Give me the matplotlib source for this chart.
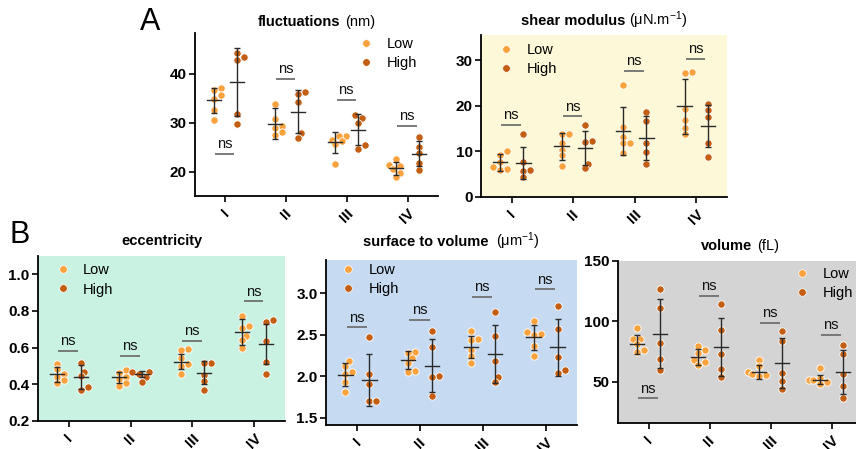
import numpy as np
import matplotlib
matplotlib.use("Agg")
import matplotlib.pyplot as plt
from matplotlib.lines import Line2D
from matplotlib.offsetbox import TextArea, HPacker, AnchoredOffsetbox

plt.rcParams['font.family'] = ['Liberation Sans', 'DejaVu Sans']
plt.rcParams['mathtext.fontset'] = 'custom'
plt.rcParams['mathtext.rm'] = 'Liberation Sans'
plt.rcParams['mathtext.it'] = 'Liberation Sans:italic'
plt.rcParams['mathtext.bf'] = 'Liberation Sans:bold'

# ---------------- data ----------------
categories = ['I', 'II', 'III', 'IV']
group_labels = ['Low', 'High']

# fluctuations (nm)
fluct_low = [[37.2, 36.7, 35.6, 34.8, 32.6, 30.6],
             [33.9, 30.8, 29.3, 28.9, 28.2, 27.6],
             [27.3, 27.2, 26.5, 26.2, 25.6, 21.6],
             [22.6, 21.4, 21.1, 20.5, 19.7, 18.8]]
fluct_high = [[44.2, 43.4, 42.9, 31.8, 29.7],
              [36.4, 35.9, 34.2, 27.9, 26.9],
              [31.6, 30.9, 29.9, 25.4, 24.6],
              [27.1, 25.0, 23.9, 21.8, 20.4]]
fluct_low_mean = [34.6, 29.8, 26.0, 20.7]
fluct_low_sd = [2.6, 3.2, 2.2, 1.35]
fluct_high_mean = [38.4, 32.3, 28.6, 23.7]
fluct_high_sd = [7.0, 4.4, 3.2, 2.55]
fluct_ns = [23.6, 39.0, 34.7, 29.4]

# shear modulus (uN/m)
shear_low = [[10.1, 9.3, 7.6, 6.6, 6.1, 6.0],
             [13.8, 13.8, 11.8, 10.4, 9.1, 6.9],
             [24.5, 15.4, 13.2, 11.8, 11.8, 9.7],
             [27.4, 27.2, 19.2, 16.9, 15.2, 13.7]]
shear_high = [[13.8, 7.7, 6.0, 5.6, 4.4],
              [15.8, 12.3, 12.0, 7.3, 6.4],
              [18.6, 16.6, 11.8, 9.9, 7.3],
              [20.4, 19.0, 17.6, 11.8, 8.8]]
shear_low_mean = [7.6, 11.1, 14.5, 19.9]
shear_low_sd = [1.8, 3.0, 5.3, 6.0]
shear_high_mean = [7.5, 10.7, 12.9, 15.5]
shear_high_sd = [3.5, 3.75, 4.75, 4.6]
shear_ns = [15.8, 17.7, 27.6, 30.3]

# eccentricity
ecc_low = [[0.511, 0.482, 0.456, 0.442, 0.424, 0.409],
           [0.478, 0.460, 0.442, 0.429, 0.409, 0.391],
           [0.595, 0.585, 0.545, 0.510, 0.500, 0.456],
           [0.773, 0.720, 0.705, 0.664, 0.640, 0.600]]
ecc_high = [[0.518, 0.469, 0.445, 0.387, 0.369],
            [0.469, 0.468, 0.456, 0.442, 0.415],
            [0.518, 0.517, 0.451, 0.418, 0.369],
            [0.751, 0.742, 0.638, 0.524, 0.455]]
ecc_low_mean = [0.455, 0.438, 0.524, 0.684]
ecc_low_sd = [0.041, 0.032, 0.039, 0.070]
ecc_high_mean = [0.440, 0.455, 0.464, 0.620]
ecc_high_sd = [0.066, 0.017, 0.064, 0.110]
ecc_ns = [0.584, 0.555, 0.638, 0.853]

# surface to volume (um^-1)
sv_low = [[2.18, 2.13, 2.05, 2.03, 1.93, 1.81],
          [2.29, 2.28, 2.22, 2.16, 2.06, 2.05],
          [2.54, 2.45, 2.44, 2.32, 2.24, 2.16],
          [2.67, 2.53, 2.51, 2.50, 2.37, 2.24]]
sv_high = [[2.47, 2.03, 1.91, 1.70, 1.70],
           [2.55, 2.35, 2.00, 1.99, 1.76],
           [2.77, 2.49, 2.19, 1.99, 1.93],
           [2.85, 2.57, 2.23, 2.08, 2.04]]
sv_low_mean = [2.02, 2.20, 2.35, 2.47]
sv_low_sd = [0.135, 0.11, 0.13, 0.15]
sv_high_mean = [1.96, 2.13, 2.27, 2.35]
sv_high_sd = [0.315, 0.315, 0.35, 0.345]
sv_ns = [2.59, 2.68, 2.96, 3.05]

# volume (fL)
vol_low = [[94.8, 85.7, 85.2, 81.0, 76.0, 74.7],
           [79.4, 76.6, 73.9, 68.4, 66.5, 64.3],
           [67.8, 63.2, 58.2, 56.3, 55.5, 54.7],
           [61.5, 53.0, 51.9, 51.5, 50.0, 48.6]]
vol_high = [[127.0, 111.3, 82.4, 69.2, 59.6],
            [114.6, 92.6, 73.4, 60.4, 54.1],
            [92.0, 83.8, 57.7, 50.5, 44.5],
            [80.2, 72.8, 56.9, 46.7, 36.8]]
vol_low_mean = [81.0, 70.6, 58.2, 51.9]
vol_low_sd = [7.6, 6.45, 5.9, 3.85]
vol_high_mean = [89.8, 78.8, 65.7, 58.2]
vol_high_sd = [28.5, 24.2, 20.6, 18.25]
vol_ns = [36.3, 121.4, 98.9, 89.0]

# ---------------- style ----------------
W, H = 856, 449
low_color = '#F9A23E'
high_color = '#C35E12'
bar_color = '#2a2a2a'
ns_color = '#707070'
marker_px = 7.0

def rect(l, r, t, b):
    return [l / W, (H - b) / H, (r - l) / W, (b - t) / H]

panels = [
    dict(bold='fluctuations', unit='(nm)', low=fluct_low, high=fluct_high,
         lm=fluct_low_mean, ls=fluct_low_sd, hm=fluct_high_mean, hs=fluct_high_sd,
         ns=fluct_ns, ylim=(15, 48.4), yticks=[20, 30, 40], fmt='{:.0f}',
         fc='white', rect=rect(195, 438, 33, 196), leg=(0.675, 0.975), gap=4),
    dict(bold='shear modulus', unit=r'($\mathrm{\mu}$N.m$^{-1}$)', low=shear_low, high=shear_high,
         lm=shear_low_mean, ls=shear_low_sd, hm=shear_high_mean, hs=shear_high_sd,
         ns=shear_ns, ylim=(0, 35.5), yticks=[0, 10, 20, 30], fmt='{:.0f}',
         fc='#FCF8D8', rect=rect(481, 727, 35, 197), leg=(0.072, 0.95), gap=4),
    dict(bold='eccentricity', unit='', low=ecc_low, high=ecc_high,
         lm=ecc_low_mean, ls=ecc_low_sd, hm=ecc_high_mean, hs=ecc_high_sd,
         ns=ecc_ns, ylim=(0.2, 1.1), yticks=[0.2, 0.4, 0.6, 0.8, 1.0], fmt='{:.1f}',
         fc='#C9F2E3', rect=rect(38, 285, 256, 421), leg=(0.07, 0.955), gap=8),
    dict(bold='surface to volume', unit=r' ($\mathrm{\mu}$m$^{-1}$)', low=sv_low, high=sv_high,
         lm=sv_low_mean, ls=sv_low_sd, hm=sv_high_mean, hs=sv_high_sd,
         ns=sv_ns, ylim=(1.415, 3.40), yticks=[1.5, 2.0, 2.5, 3.0], fmt='{:.1f}',
         fc='#C6DAF2', rect=rect(326, 577, 260, 425), leg=(0.058, 0.98), gap=8),
    dict(bold='volume', unit='(fL)', low=vol_low, high=vol_high,
         lm=vol_low_mean, ls=vol_low_sd, hm=vol_high_mean, hs=vol_high_sd,
         ns=vol_ns, ylim=(16, 150), yticks=[50, 100, 150], fmt='{:.0f}',
         fc='#D4D4D4', rect=rect(618, 862, 261, 423), leg=(0.725, 0.965), gap=8),
]

fig = plt.figure(figsize=(W / 100, H / 100), dpi=100)

def swarm_x(ax, xc, ys, diam):
    ys = np.asarray(ys, float)
    pts = ax.transData.transform(np.column_stack([np.full(len(ys), xc), ys]))
    x0 = pts[0, 0]
    order = np.argsort(ys)
    placed = []
    out = np.zeros(len(ys))
    for i in order:
        yp = pts[i, 1]
        for k in [0, 1, -1, 2, -2, 3, -3]:
            xp = x0 + k * diam * 0.5
            if all((xp - a) ** 2 + (yp - b) ** 2 >= (diam * 0.75) ** 2 for a, b in placed):
                break
        placed.append((xp, yp))
        out[i] = xp
    back = ax.transData.inverted().transform(np.column_stack([out, pts[:, 1]]))
    return back[:, 0]

xpos = np.arange(len(categories))
off = 0.19
half_mean = 0.115

for p in panels:
    ax = fig.add_axes(p['rect'])
    ax.set_facecolor(p['fc'])
    ax.set_xlim(-0.5, 3.5)
    ax.set_ylim(*p['ylim'])
    for s in ['top', 'right']:
        ax.spines[s].set_visible(False)
    for s in ['left', 'bottom']:
        ax.spines[s].set_linewidth(1.3)
        ax.spines[s].set_color('black')

    for gi, (pts_all, means, sds, col, dx) in enumerate([
            (p['low'], p['lm'], p['ls'], low_color, -off),
            (p['high'], p['hm'], p['hs'], high_color, off)]):
        for ci in range(len(categories)):
            xc = xpos[ci] + dx
            ys = pts_all[ci]
            xs = swarm_x(ax, xc, ys, marker_px)
            ax.scatter(xs, ys, s=28, color=col, edgecolors='white', linewidths=0.6, zorder=3)
            ax.errorbar([xc], [means[ci]], yerr=[sds[ci]], fmt='none', ecolor=bar_color,
                        elinewidth=1.0, capsize=2.5, capthick=1.0, zorder=4)
            ax.plot([xc - half_mean, xc + half_mean], [means[ci], means[ci]],
                    color=bar_color, lw=1.0, zorder=4)

    for ci in range(len(categories)):
        x0 = xpos[ci] - 0.01
        ax.plot([x0 - 0.16, x0 + 0.16], [p['ns'][ci], p['ns'][ci]], color=ns_color,
                lw=1.3, zorder=2, solid_capstyle='butt')
        ax.annotate('ns', (x0, p['ns'][ci]), xytext=(0, 4), textcoords='offset points',
                    ha='center', va='baseline', fontsize=10.5, color='#111111')

    ax.set_xticks(xpos)
    ax.set_xticklabels(categories, rotation=45, ha='center', fontweight='bold', fontsize=11)
    ax.set_yticks(p['yticks'])
    ax.set_yticklabels([p['fmt'].format(v) for v in p['yticks']], fontweight='bold', fontsize=11)
    ax.tick_params(axis='both', direction='out', length=4, width=1.2, colors='black', pad=2)
    ax.tick_params(axis='x', pad=3)

    handles = [Line2D([], [], marker='o', ls='', markersize=5.5, markerfacecolor=low_color,
                      markeredgecolor='white', markeredgewidth=0.5, label=group_labels[0]),
               Line2D([], [], marker='o', ls='', markersize=5.5, markerfacecolor=high_color,
                      markeredgecolor='white', markeredgewidth=0.5, label=group_labels[1])]
    ax.legend(handles=handles, loc='upper left', bbox_to_anchor=p['leg'], frameon=False,
              fontsize=10.5, handlelength=1.0, handletextpad=0.9, labelspacing=0.35,
              borderpad=0, borderaxespad=0)

    parts = [TextArea(p['bold'], textprops=dict(fontweight='bold', fontsize=10.5))]
    if p['unit']:
        parts.append(TextArea(p['unit'], textprops=dict(fontsize=10.5)))
    box = HPacker(children=parts, align='baseline', pad=0, sep=3)
    height_px = p['rect'][3] * H
    anch = AnchoredOffsetbox(loc='lower center', child=box, pad=0, borderpad=0, frameon=False,
                             bbox_to_anchor=(0.5, 1 + p['gap'] / height_px),
                             bbox_transform=ax.transAxes)
    ax.add_artist(anch)

fig.text(140 / W, 1 - 30 / H, 'A', fontsize=22, va='baseline', ha='left')
fig.text(9 / W, 1 - 243 / H, 'B', fontsize=22, va='baseline', ha='left')

fig.savefig('out.png', dpi=100)
